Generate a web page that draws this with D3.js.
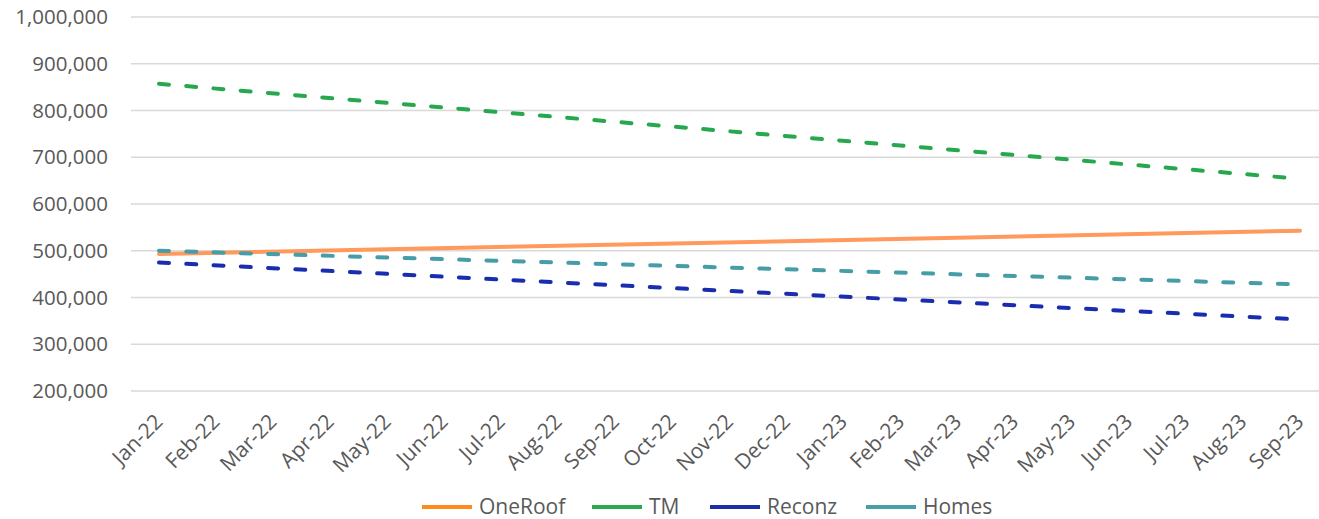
<!DOCTYPE html>
<html>
<head>
<meta charset="utf-8">
<script src="https://cdn.jsdelivr.net/npm/d3@7"></script>
<style>
  html, body { margin: 0; padding: 0; background: #fff; }
  svg { display: block; }
  text { font-family: "Open Sans", sans-serif; fill: #595959; }
</style>
</head>
<body>
<svg id="chart" width="1319" height="519"></svg>
<script>
// ---- data ----
const categories = ["Jan-22","Feb-22","Mar-22","Apr-22","May-22","Jun-22","Jul-22","Aug-22","Sep-22","Oct-22","Nov-22","Dec-22","Jan-23","Feb-23","Mar-23","Apr-23","May-23","Jun-23","Jul-23","Aug-23","Sep-23"];
const seriesNames = ["OneRoof", "TM", "Reconz", "Homes"];
// linear trendline values at first and last month
const trendStart = [493000, 857000, 475000, 500000];
const trendEnd   = [543000, 654000, 353000, 428000];
const yTicks = [200000, 300000, 400000, 500000, 600000, 700000, 800000, 900000, 1000000];

// ---- styles ----
const trendColors  = ["#FF9A5C", "#27A84F", "#1A2DAF", "#469DA8"];
const legendColors = ["#FF8A1C", "#2AA84E", "#1C2FA8", "#47A0A9"];
const dashed = [false, true, true, true];

const svg = d3.select("#chart");
const plotLeft = 131, plotRight = 1319;
const x = d3.scalePoint().domain(categories).range([159, 1300]);
const y = d3.scaleLinear().domain([200000, 1000000]).range([391, 17]);

// gridlines
svg.append("g").selectAll("line").data(yTicks).join("line")
  .attr("x1", plotLeft).attr("x2", plotRight)
  .attr("y1", d => y(d)).attr("y2", d => y(d))
  .attr("stroke", "#D9D9D9").attr("stroke-width", 1.5);

// y axis labels
const fmt = d3.format(",");
svg.append("g").selectAll("text").data(yTicks).join("text")
  .attr("x", 108).attr("y", d => y(d)).attr("dy", "0.35em")
  .attr("text-anchor", "end").style("font-size", "20.5px")
  .text(d => fmt(d));

// x axis labels
svg.append("g").selectAll("text").data(categories).join("text")
  .attr("text-anchor", "end")
  .style("font-size", "21px")
  .attr("transform", d => `translate(${x(d) + 5},${423}) rotate(-45)`)
  .text(d => d);

// trendlines
const line = d3.line().x(d => x(d.c)).y(d => y(d.v));
seriesNames.forEach((s, i) => {
  const pts = [
    { c: categories[0], v: trendStart[i] },
    { c: categories[categories.length - 1], v: trendEnd[i] }
  ];
  svg.append("path").datum(pts)
    .attr("d", line)
    .attr("fill", "none")
    .attr("stroke", trendColors[i])
    .attr("stroke-width", 4)
    .attr("stroke-linecap", "round")
    .attr("stroke-dasharray", dashed[i] ? "10,17.3" : null);
});

// legend
const legendX = [422, 592, 710, 866];
const lg = svg.append("g");
seriesNames.forEach((s, i) => {
  lg.append("line")
    .attr("x1", legendX[i]).attr("x2", legendX[i] + 50)
    .attr("y1", 507).attr("y2", 507)
    .attr("stroke", legendColors[i]).attr("stroke-width", 4);
  lg.append("text")
    .attr("x", legendX[i] + 57).attr("y", 507).attr("dy", "0.35em")
    .style("font-size", "21px")
    .text(s);
});
</script>
</body>
</html>
